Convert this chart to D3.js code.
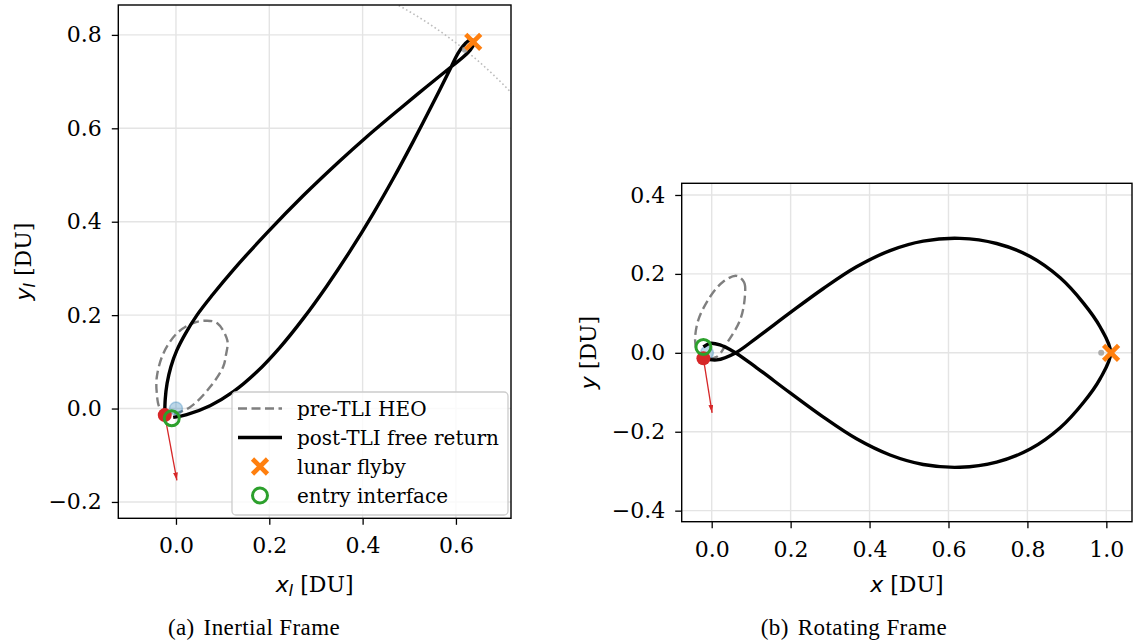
<!DOCTYPE html>
<html>
<head>
<meta charset="utf-8">
<style>
  body { margin: 0; background: #fff; }
  svg text { white-space: pre; }
</style>
</head>
<body>
<svg width="1133" height="641" font-family="DejaVu Serif"></svg>
<script src="https://d3js.org/d3.v7.min.js"></script>
<script>

// ---------- data, all in DU ----------

// (a) inertial frame
var inertialHEO = [[0.066, 0.188], [0.088, 0.183], [0.110, 0.146], [0.107, 0.114], [0.101, 0.089],
    [0.073, 0.046], [0.030, 0.003], [-0.009, -0.011], [-0.034, 0.001], [-0.041, 0.032],
    [-0.041, 0.068], [-0.027, 0.118], [0.002, 0.161], [0.037, 0.183]];
var inertialFreeReturn = [[-0.024, -0.014], [-0.023, 0.020], [-0.019, 0.054], [-0.011, 0.089],
    [0.002, 0.125], [0.020, 0.160], [0.045, 0.200], [0.078, 0.243], [0.123, 0.297], [0.194, 0.375],
    [0.273, 0.456], [0.351, 0.530], [0.409, 0.582], [0.480, 0.642], [0.537, 0.689], [0.594, 0.735],
    [0.615, 0.752], [0.630, 0.767], [0.638, 0.779], [0.637, 0.788], [0.628, 0.788], [0.616, 0.777],
    [0.604, 0.760], [0.590, 0.732], [0.551, 0.654], [0.508, 0.571], [0.466, 0.493], [0.423, 0.418],
    [0.373, 0.337], [0.323, 0.262], [0.273, 0.193], [0.223, 0.131], [0.173, 0.078], [0.123, 0.036],
    [0.073, 0.006], [0.023, -0.013], [-0.006, -0.019]];
var inertialEarth = [0.0, 0.0];
var inertialMoon = [0.619, 0.768];
var inertialFlyby = [0.637, 0.785];
var inertialTLI = [-0.024, -0.014];
var inertialTLIDir = [0.002, -0.154];
var inertialEntry = [-0.009, -0.021];
var moonOrbitRadius = 0.987;

// (b) rotating frame
var rotatingHEO = [[0.063, 0.195], [0.082, 0.179], [0.084, 0.142], [0.072, 0.083], [0.038, 0.024],
    [0.013, -0.010], [-0.017, -0.013], [-0.037, 0.007], [-0.042, 0.032], [-0.034, 0.083],
    [-0.004, 0.142], [0.029, 0.180]];
var rotatingFreeReturn = [[-0.021, -0.014], [0.013, -0.018], [0.059, -0.001], [0.114, 0.038],
    [0.198, 0.101], [0.283, 0.163], [0.367, 0.218], [0.452, 0.259], [0.536, 0.283], [0.629, 0.290],
    [0.722, 0.277], [0.807, 0.244], [0.883, 0.190], [0.942, 0.126], [0.984, 0.066], [1.011, 0.0],
    [0.984, -0.066], [0.942, -0.126], [0.883, -0.190], [0.807, -0.244], [0.722, -0.277], [0.629, -0.290],
    [0.536, -0.283], [0.452, -0.259], [0.367, -0.218], [0.283, -0.163], [0.198, -0.101], [0.114, -0.038],
    [0.059, 0.001], [0.021, 0.020], [-0.004, 0.024], [-0.021, 0.015]];
var rotatingEarth = [-0.012, 0.0];
var rotatingMoon = [0.987, 0.0];
var rotatingFlyby = [1.012, 0.0];
var rotatingTLI = [-0.021, -0.014];
var rotatingTLIDir = [0.001, -0.152];
var rotatingEntry = [-0.021, 0.015];

// ticks
var xTicksA = [0.0, 0.2, 0.4, 0.6],
    yTicksA = [-0.2, 0.0, 0.2, 0.4, 0.6, 0.8],
    xTicksB = [0.0, 0.2, 0.4, 0.6, 0.8, 1.0],
    yTicksB = [-0.4, -0.2, 0.0, 0.2, 0.4];

var legendLabels = ["pre-TLI HEO", "post-TLI free return", "lunar flyby", "entry interface"];

// ---------- drawing ----------

var svg = d3.select("svg");
svg.append("rect").attr("width", 1133).attr("height", 641).attr("fill", "#fff");
var defs = svg.append("defs");

defs.append("marker")
    .attr("id", "arrowhead")
    .attr("viewBox", "0 0 10 6")
    .attr("refX", 10).attr("refY", 3)
    .attr("markerUnits", "userSpaceOnUse")
    .attr("markerWidth", 8).attr("markerHeight", 5)
    .attr("orient", "auto")
    .append("path").attr("d", "M0,0L10,3L0,6Z").attr("fill", "#d62728");

var fmt = d3.format(".1f");
var orange = "#ff7f0e", green = "#2ca02c", red = "#d62728", blue = "#1f77b4";

function crossPath(s) {
    return "M" + (-s) + "," + (-s) + "L" + s + "," + s + "M" + (-s) + "," + s + "L" + s + "," + (-s);
}

function drawPanel(cfg) {
    var x = d3.scaleLinear().domain(cfg.xDomain).range([cfg.left, cfg.right]),
        y = d3.scaleLinear().domain(cfg.yDomain).range([cfg.bottom, cfg.top]);
    var g = svg.append("g");

    defs.append("clipPath").attr("id", "clip-" + cfg.id)
        .append("rect")
        .attr("x", cfg.left).attr("y", cfg.top)
        .attr("width", cfg.right - cfg.left).attr("height", cfg.bottom - cfg.top);

    // grid
    g.selectAll(".gx").data(cfg.xTicks).join("line")
        .attr("x1", d => x(d)).attr("x2", d => x(d))
        .attr("y1", cfg.top).attr("y2", cfg.bottom)
        .attr("stroke", "#e4e4e4").attr("stroke-width", 1.4);
    g.selectAll(".gy").data(cfg.yTicks).join("line")
        .attr("y1", d => y(d)).attr("y2", d => y(d))
        .attr("x1", cfg.left).attr("x2", cfg.right)
        .attr("stroke", "#e4e4e4").attr("stroke-width", 1.4);

    var plot = g.append("g").attr("clip-path", "url(#clip-" + cfg.id + ")");
    var line = d3.line().x(d => x(d[0])).y(d => y(d[1]));

    if (cfg.moonOrbit) {
        plot.append("circle")
            .attr("cx", x(0)).attr("cy", y(0))
            .attr("r", x(cfg.moonOrbit) - x(0))
            .attr("fill", "none").attr("stroke", "#bdbdbd")
            .attr("stroke-width", 1.6).attr("stroke-dasharray", "1.6,2.6");
    }

    // pre-TLI HEO
    plot.append("path")
        .attr("d", line.curve(d3.curveCatmullRomClosed)(cfg.heo))
        .attr("fill", "none").attr("stroke", "#7f7f7f")
        .attr("stroke-width", 2.4).attr("stroke-dasharray", "9,4.5");

    // Earth
    plot.append("circle")
        .attr("cx", x(cfg.earth[0])).attr("cy", y(cfg.earth[1])).attr("r", 6.5)
        .attr("fill", blue).attr("fill-opacity", 0.3)
        .attr("stroke", blue).attr("stroke-opacity", 0.3).attr("stroke-width", 1.5);

    // post-TLI free return
    plot.append("path")
        .attr("d", line.curve(d3.curveCatmullRom)(cfg.freeReturn))
        .attr("fill", "none").attr("stroke", "#000")
        .attr("stroke-width", 3.4).attr("stroke-linejoin", "round");

    // Moon
    plot.append("circle")
        .attr("cx", x(cfg.moon[0])).attr("cy", y(cfg.moon[1])).attr("r", 3)
        .attr("fill", "#9a9a9a").attr("fill-opacity", 0.8);

    // lunar flyby
    plot.append("path")
        .attr("transform", "translate(" + x(cfg.flyby[0]) + "," + y(cfg.flyby[1]) + ")")
        .attr("d", crossPath(7.5))
        .attr("stroke", orange).attr("stroke-width", 4.6).attr("fill", "none");

    // TLI point and direction
    plot.append("circle")
        .attr("cx", x(cfg.tli[0])).attr("cy", y(cfg.tli[1])).attr("r", 7)
        .attr("fill", red);
    plot.append("line")
        .attr("x1", x(cfg.tli[0])).attr("y1", y(cfg.tli[1]))
        .attr("x2", x(cfg.tliDir[0])).attr("y2", y(cfg.tliDir[1]))
        .attr("stroke", red).attr("stroke-width", 1.3)
        .attr("marker-end", "url(#arrowhead)");

    // entry interface
    plot.append("circle")
        .attr("cx", x(cfg.entry[0])).attr("cy", y(cfg.entry[1])).attr("r", 7.5)
        .attr("fill", "none").attr("stroke", green).attr("stroke-width", 3);

    // axes
    var ax = g.append("g")
        .attr("transform", "translate(0," + cfg.bottom + ")")
        .call(d3.axisBottom(x).tickValues(cfg.xTicks).tickFormat(fmt).tickSize(6.5).tickPadding(13));
    var ay = g.append("g")
        .attr("transform", "translate(" + cfg.left + ",0)")
        .call(d3.axisLeft(y).tickValues(cfg.yTicks).tickFormat(fmt).tickSize(6.5).tickPadding(10));
    [ax, ay].forEach(function(a) {
        a.attr("font-family", "DejaVu Serif").attr("font-size", 22);
        a.select(".domain").remove();
        a.selectAll(".tick line").attr("stroke", "#000").attr("stroke-width", 1.3);
        a.selectAll(".tick text").attr("fill", "#000");
    });

    // spines
    g.append("rect")
        .attr("x", cfg.left).attr("y", cfg.top)
        .attr("width", cfg.right - cfg.left).attr("height", cfg.bottom - cfg.top)
        .attr("fill", "none").attr("stroke", "#000").attr("stroke-width", 1.4);

    // axis labels
    var xl = g.append("text")
        .attr("x", (cfg.left + cfg.right) / 2).attr("y", 592)
        .attr("text-anchor", "middle").attr("font-size", 22);
    xl.append("tspan").attr("font-family", "DejaVu Sans").attr("font-style", "italic").text("x");
    if (cfg.sub) {
        xl.append("tspan").attr("font-family", "DejaVu Sans").attr("font-style", "italic")
            .attr("font-size", 15.5).attr("dy", 4).text(cfg.sub);
        xl.append("tspan").attr("dy", -4).text(" [DU]");
    } else {
        xl.append("tspan").text(" [DU]");
    }

    var yl = g.append("text")
        .attr("transform", "translate(" + cfg.yLabelX + "," + (cfg.top + cfg.bottom) / 2 + ") rotate(-90)")
        .attr("text-anchor", "middle").attr("font-size", 22);
    yl.append("tspan").attr("font-family", "DejaVu Sans").attr("font-style", "italic").text("y");
    if (cfg.sub) {
        yl.append("tspan").attr("font-family", "DejaVu Sans").attr("font-style", "italic")
            .attr("font-size", 15.5).attr("dy", 4).text(cfg.sub);
        yl.append("tspan").attr("dy", -4).text(" [DU]");
    } else {
        yl.append("tspan").text(" [DU]");
    }

    // caption
    var cap = svg.append("text")
        .attr("x", cfg.captionX).attr("y", 635)
        .attr("text-anchor", "middle")
        .attr("font-family", "Liberation Serif").attr("font-size", 23)
        .attr("letter-spacing", 0.4);
    cap.append("tspan").text(cfg.caption[0]);
    cap.append("tspan").attr("dx", 9).text(cfg.caption[1]);

    return {x: x, y: y, g: g};
}

var panelA = drawPanel({
    id: "a", left: 118.3, right: 511, top: 5, bottom: 518.3,
    xDomain: [-0.1236, 0.718], yDomain: [-0.235, 0.864],
    xTicks: xTicksA, yTicks: yTicksA, sub: "I", yLabelX: 31,
    heo: inertialHEO, freeReturn: inertialFreeReturn, earth: inertialEarth, moon: inertialMoon,
    flyby: inertialFlyby, tli: inertialTLI, tliDir: inertialTLIDir, entry: inertialEntry,
    moonOrbit: moonOrbitRadius,
    caption: ["(a)", "Inertial Frame"], captionX: 254
});

drawPanel({
    id: "b", left: 681.7, right: 1132, top: 183.3, bottom: 521.7,
    xDomain: [-0.076, 1.065], yDomain: [-0.428, 0.4296],
    xTicks: xTicksB, yTicks: yTicksB, sub: null, yLabelX: 596,
    heo: rotatingHEO, freeReturn: rotatingFreeReturn, earth: rotatingEarth, moon: rotatingMoon,
    flyby: rotatingFlyby, tli: rotatingTLI, tliDir: rotatingTLIDir, entry: rotatingEntry,
    moonOrbit: null,
    caption: ["(b)", "Rotating Frame"], captionX: 854
});

// legend (panel a)
var lg = panelA.g.append("g");
lg.append("rect")
    .attr("x", 232).attr("y", 392).attr("width", 276).attr("height", 123)
    .attr("rx", 4).attr("fill", "#fff").attr("fill-opacity", 0.8)
    .attr("stroke", "#cccccc").attr("stroke-width", 1.3);
var rows = lg.selectAll(".row").data(legendLabels).join("g")
    .attr("transform", (d, i) => "translate(238," + (408.5 + i * 29) + ")");
rows.append("text")
    .attr("x", 59).attr("y", 7.5)
    .attr("font-size", 20).attr("fill", "#000")
    .text(d => d);
rows.filter((d, i) => i === 0).append("line")
    .attr("x1", 0).attr("x2", 44).attr("stroke", "#7f7f7f")
    .attr("stroke-width", 2.4).attr("stroke-dasharray", "9,4.5");
rows.filter((d, i) => i === 1).append("line")
    .attr("x1", 0).attr("x2", 44).attr("stroke", "#000").attr("stroke-width", 3.4);
rows.filter((d, i) => i === 2).append("path")
    .attr("transform", "translate(22,0)").attr("d", crossPath(7.5))
    .attr("stroke", orange).attr("stroke-width", 4.6).attr("fill", "none");
rows.filter((d, i) => i === 3).append("circle")
    .attr("cx", 22).attr("r", 7.5)
    .attr("fill", "none").attr("stroke", green).attr("stroke-width", 3);

</script>
</body>
</html>
